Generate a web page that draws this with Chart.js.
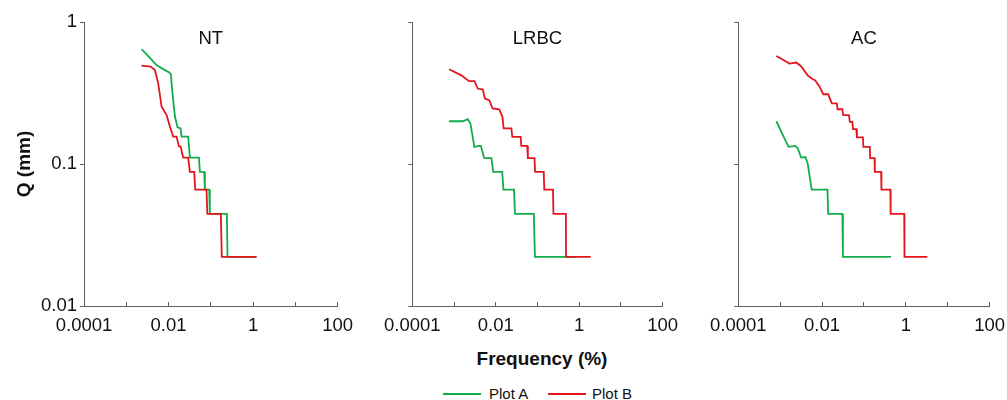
<!DOCTYPE html>
<html>
<head>
<meta charset="utf-8">
<script src="https://cdn.jsdelivr.net/npm/chart.js@4"></script>
<style>
  html, body { margin: 0; padding: 0; background: #fff; width: 1007px; height: 400px; overflow: hidden; position: relative; font-family: "Liberation Sans", Arial, sans-serif; }
  canvas { position: absolute; top: 0; }
  #xtitle { position: absolute; left: 442px; width: 200px; top: 347px; text-align: center; font-weight: bold; font-size: 19px; color: #111; line-height: 24px; }
  .leg { position: absolute; top: 384px; font-size: 15px; color: #111; line-height: 20px; }
  .legline { position: absolute; top: 393px; width: 38px; height: 2px; }
</style>
</head>
<body>
<canvas id="c1" width="366" height="340" style="left:0px"></canvas>
<canvas id="c2" width="320" height="340" style="left:371px"></canvas>
<canvas id="c3" width="321" height="340" style="left:697px"></canvas>
<div id="xtitle">Frequency (%)</div>
<div class="legline" style="left:443px;background:#12AD4B"></div>
<div class="leg" style="left:489px">Plot A</div>
<div class="legline" style="left:548px;background:#E3161B"></div>
<div class="leg" style="left:592px">Plot B</div>
<script>
// ---- data ----
const panelNames = ['NT', 'LRBC', 'AC'];
const seriesNames = ['Plot A', 'Plot B'];
const xTicks = [0.0001, 0.001, 0.01, 0.1, 1, 10, 100];
const xTickLabels = ['0.0001', '', '0.01', '', '1', '', '100'];
const yTicks = [0.01, 0.1, 1];
const yTickLabels = ['0.01', '0.1', '1'];

const ntAx = [0.0023, 0.0035, 0.0052, 0.0080, 0.0104, 0.0114, 0.0122, 0.0129, 0.0142, 0.0164, 0.0193, 0.0204, 0.0292, 0.032, 0.0524, 0.0552, 0.0698, 0.0725, 0.0916, 0.095, 0.240, 0.249, 1.2];
const ntAy = [0.645, 0.565, 0.498, 0.46, 0.442, 0.428, 0.33, 0.282, 0.215, 0.181, 0.178, 0.156, 0.156, 0.111, 0.111, 0.088, 0.088, 0.066, 0.066, 0.0445, 0.0445, 0.0222, 0.0222];
const ntBx = [0.0023, 0.00376, 0.00476, 0.0057, 0.00686, 0.0090, 0.0108, 0.0129, 0.0155, 0.0176, 0.0193, 0.0222, 0.0292, 0.032, 0.0406, 0.0428, 0.0793, 0.0830, 0.173, 0.182, 1.21];
const ntBy = [0.493, 0.485, 0.459, 0.370, 0.253, 0.221, 0.183, 0.156, 0.156, 0.133, 0.133, 0.111, 0.111, 0.088, 0.088, 0.066, 0.066, 0.0445, 0.0445, 0.0222, 0.0222];

const lrbcAx = [0.00076, 0.00163, 0.00214, 0.00247, 0.00308, 0.00405, 0.0044, 0.0053, 0.0079, 0.0087, 0.0143, 0.0153, 0.0275, 0.029, 0.082, 0.087, 0.8];
const lrbcAy = [0.2, 0.2, 0.207, 0.193, 0.132, 0.134, 0.134, 0.110, 0.110, 0.088, 0.088, 0.066, 0.066, 0.0445, 0.0445, 0.0222, 0.0222];
const lrbcBx = [0.00076, 0.0015, 0.0023, 0.0031, 0.0037, 0.0049, 0.0055, 0.0070, 0.0084, 0.0121, 0.0145, 0.0155, 0.0237, 0.025, 0.0395, 0.041, 0.0569, 0.059, 0.085, 0.088, 0.1416, 0.146, 0.236, 0.242, 0.481, 0.485, 1.89];
const lrbcBy = [0.465, 0.421, 0.383, 0.383, 0.34, 0.334, 0.289, 0.281, 0.246, 0.243, 0.215, 0.178, 0.178, 0.155, 0.155, 0.134, 0.134, 0.110, 0.110, 0.088, 0.088, 0.066, 0.066, 0.0445, 0.0445, 0.0222, 0.0222];

const acAx = [0.00081, 0.00116, 0.00159, 0.00228, 0.00263, 0.00316, 0.0040, 0.00454, 0.00565, 0.0135, 0.014, 0.0306, 0.0315, 0.443];
const acAy = [0.2, 0.16, 0.132, 0.134, 0.129, 0.111, 0.112, 0.101, 0.066, 0.066, 0.0445, 0.0445, 0.0222, 0.0222];
const acBx = [0.00081, 0.00167, 0.0024, 0.00316, 0.00454, 0.0060, 0.0068, 0.0086, 0.0107, 0.014, 0.0171, 0.0225, 0.0235, 0.0306, 0.032, 0.044, 0.046, 0.0528, 0.055, 0.0657, 0.068, 0.0945, 0.097, 0.138, 0.141, 0.1786, 0.182, 0.257, 0.262, 0.428, 0.435, 0.916, 0.93, 3.27];
const acBy = [0.577, 0.509, 0.518, 0.488, 0.421, 0.395, 0.389, 0.353, 0.31, 0.31, 0.267, 0.267, 0.243, 0.243, 0.221, 0.221, 0.198, 0.198, 0.176, 0.176, 0.154, 0.154, 0.132, 0.132, 0.110, 0.110, 0.088, 0.088, 0.066, 0.066, 0.0445, 0.0445, 0.0222, 0.0222];

// ---- styling ----
const FONT = '"Liberation Sans", Arial, sans-serif';
const GREEN = '#12AD4B';
const RED = '#E3161B';
const AXIS = '#606060';

const panelTitlePlugin = {
  id: 'panelTitle',
  afterDraw(chart, args, opts) {
    const {ctx, chartArea} = chart;
    ctx.save();
    ctx.font = '18.5px ' + FONT;
    ctx.fillStyle = '#111';
    ctx.textAlign = 'center';
    ctx.textBaseline = 'middle';
    ctx.fillText(opts.text, (chartArea.left + chartArea.right) / 2, 39);
    ctx.restore();
  }
};

function pts(xs, ys) { return xs.map((x, i) => ({x: x, y: ys[i]})); }

function makeChart(id, name, ax, ay, bx, by, first, yWidth, padRight) {
  new Chart(document.getElementById(id), {
    type: 'line',
    data: {
      datasets: [
        {label: seriesNames[0], data: pts(ax, ay), borderColor: GREEN, borderWidth: 1.8, pointRadius: 0, tension: 0, fill: false, order: 1},
        {label: seriesNames[1], data: pts(bx, by), borderColor: RED, borderWidth: 1.8, pointRadius: 0, tension: 0, fill: false, order: 0}
      ]
    },
    plugins: [panelTitlePlugin],
    options: {
      responsive: false,
      animation: false,
      events: [],
      layout: {padding: {top: 22, right: padRight, left: 0, bottom: 0}},
      plugins: {
        legend: {display: false},
        tooltip: {enabled: false},
        panelTitle: {text: name}
      },
      scales: {
        x: {
          type: 'logarithmic',
          min: 0.0001, max: 100,
          afterBuildTicks: (s) => { s.ticks = xTicks.map(v => ({value: v})); },
          afterFit: (s) => { s.height = 34; },
          ticks: {
            autoSkip: false, maxRotation: 0, minRotation: 0, padding: 13,
            color: '#111', font: {family: FONT, size: 18.5},
            callback: (v, i) => xTickLabels[i]
          },
          grid: {drawOnChartArea: false, drawTicks: true, tickLength: -4, color: AXIS, lineWidth: 1},
          border: {display: true, color: AXIS, width: 1}
        },
        y: {
          type: 'logarithmic',
          min: 0.01, max: 1,
          afterBuildTicks: (s) => { s.ticks = yTicks.map(v => ({value: v})); },
          afterFit: (s) => { s.width = yWidth; },
          ticks: {
            autoSkip: false, padding: 3,
            color: '#111', font: {family: FONT, size: 18.5},
            callback: (v, i) => first ? yTickLabels[i] : ''
          },
          grid: {drawOnChartArea: false, drawTicks: true, tickLength: 4, color: AXIS, lineWidth: 1},
          border: {display: true, color: AXIS, width: 1},
          title: {
            display: first, text: 'Q (mm)', color: '#111',
            font: {family: FONT, size: 19, weight: 'bold'},
            padding: {top: 13, bottom: 0}
          }
        }
      }
    }
  });
}

makeChart('c1', panelNames[0], ntAx, ntAy, ntBx, ntBy, true, 84, 28);
makeChart('c2', panelNames[1], lrbcAx, lrbcAy, lrbcBx, lrbcBy, false, 40, 28);
makeChart('c3', panelNames[2], acAx, acAy, acBx, acBy, false, 40, 28);
</script>
</body>
</html>
